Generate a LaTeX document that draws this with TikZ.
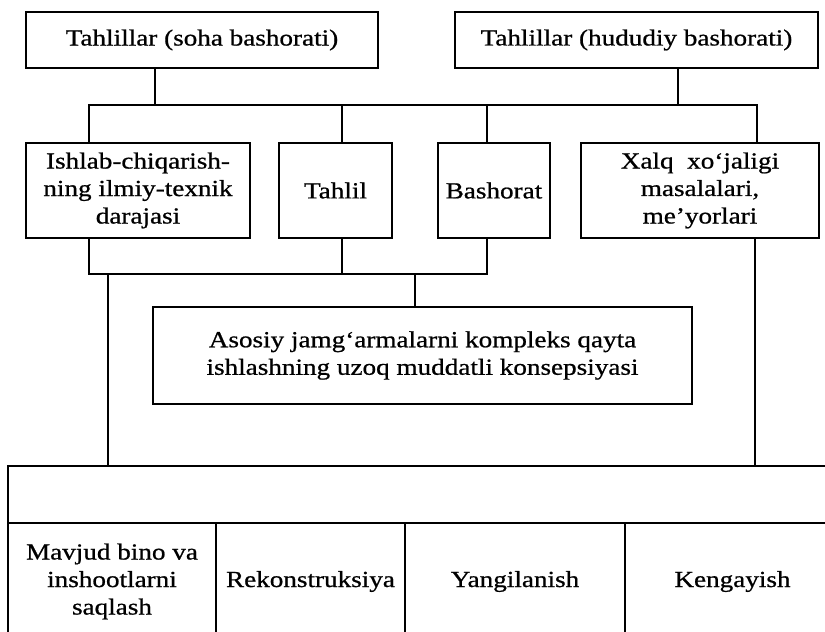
\documentclass[tikz,border=0pt]{standalone}
\usepackage{fontspec}
\setmainfont{Liberation Serif}[FakeStretch=1.18,FakeBold=0.8]
\begin{document}
\begin{tikzpicture}[x=1pt,y=-1pt,
  box/.style={draw, line width=1.6pt, inner sep=0pt, align=center, font=\fontsize{23}{27.5}\selectfont},
  conn/.style={line width=1.6pt}]
\useasboundingbox (0,0) rectangle (825,632);
\clip (0,0) rectangle (825,632);
\coordinate (bus) at (0,105);
\coordinate (bus2) at (0,274);
% top boxes
\node[box, minimum width=352pt, minimum height=56pt] (t1) at (202,40) {Tahlillar (soha bashorati)};
\node[box, minimum width=363pt, minimum height=56pt] (t2) at (636.5,40) {Tahlillar (hududiy bashorati)};
% middle boxes
\node[box, minimum width=224pt, minimum height=95pt] (ish) at (138,190.5) {Ishlab-chiqarish-\\ning ilmiy-texnik\\darajasi};
\node[box, minimum width=113pt, minimum height=95pt] (tah) at (335.5,190.5) {Tahlil};
\node[box, minimum width=112pt, minimum height=95pt] (bas) at (494,190.5) {Bashorat};
\node[box, minimum width=238pt, minimum height=95pt] (xal) at (700,190.5) {Xalq \ xo‘jaligi\\masalalari,\\me’yorlari};
% concept box
\node[box, minimum width=539pt, minimum height=97pt] (aso) at (422.5,355.5) {Asosiy jamg‘armalarni kompleks qayta\\ishlashning uzoq muddatli konsepsiyasi};
% table
\node[box, minimum width=832pt, minimum height=57pt] (top) at (424,494.5) {};
\node[box, minimum width=208pt, minimum height=117pt] (c1) at (112,581.5) {Mavjud bino va\\inshootlarni\\saqlash};
\node[box, minimum width=189pt, minimum height=117pt] (c2) at (310.5,581.5) {Rekonstruksiya};
\node[box, minimum width=220pt, minimum height=117pt] (c3) at (515,581.5) {Yangilanish};
\node[box, minimum width=215pt, minimum height=117pt] (c4) at (732.5,581.5) {Kengayish};
% upper bus
\draw[conn] ([xshift=-49pt]ish.north) -- ([xshift=-49pt]ish.north |- bus) -- ([xshift=57pt]xal.north |- bus) -- ([xshift=57pt]xal.north);
\draw[conn] ([xshift=-47pt]t1.south) -- ([xshift=-47pt]t1.south |- bus);
\draw[conn] ([xshift=41.5pt]t2.south) -- ([xshift=41.5pt]t2.south |- bus);
\draw[conn] ([xshift=6.5pt]tah.north) -- ([xshift=6.5pt]tah.north |- bus);
\draw[conn] ([xshift=-7pt]bas.north) -- ([xshift=-7pt]bas.north |- bus);
% lower bus
\draw[conn] ([xshift=-49pt]ish.south) |- ([xshift=-7pt]bas.south |- bus2) -- ([xshift=-7pt]bas.south);
\draw[conn] ([xshift=6.5pt]tah.south) -- ([xshift=6.5pt]tah.south |- bus2);
\draw[conn] ([xshift=-7.5pt]aso.north) -- ([xshift=-7.5pt]aso.north |- bus2);
\draw[conn] ([xshift=-316pt]top.north) -- ([xshift=-316pt]top.north |- bus2);
\draw[conn] ([xshift=55pt]xal.south) -- ([xshift=55pt]xal.south |- top.north);
\end{tikzpicture}
\end{document}
